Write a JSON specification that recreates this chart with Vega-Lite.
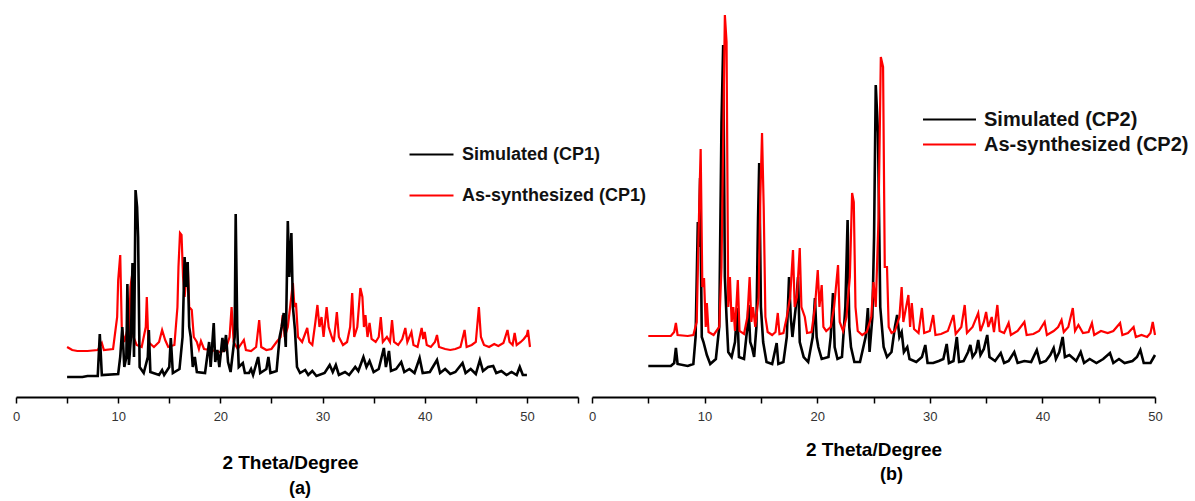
{
  "$schema": "https://vega.github.io/schema/vega-lite/v6.json",
  "padding": {"left": 12, "top": 0, "right": 0, "bottom": 0},
  "bounds": "flush",
  "spacing": 14,
  "config": {"view": {"stroke": null}, "font": "Liberation Sans"},
  "resolve": {"scale": {"color": "independent", "x": "independent", "y": "independent"}, "legend": {"color": "independent"}},
  "datasets": {
    "a_sim": [
      {"x":5.0,"y":20},{"x":6.5,"y":20},{"x":7.0,"y":21},{"x":8.0,"y":21},{"x":8.2,"y":63},{"x":8.4,"y":22},{"x":10.0,"y":23},{"x":10.2,"y":40},{"x":10.4,"y":70},{"x":10.6,"y":30},{"x":10.8,"y":40},{"x":10.9,"y":113},{"x":11.05,"y":32},{"x":11.25,"y":60},{"x":11.4,"y":134},{"x":11.55,"y":40},{"x":11.7,"y":207},{"x":11.85,"y":190},{"x":11.95,"y":160},{"x":12.1,"y":30},{"x":12.5,"y":24},{"x":12.9,"y":40},{"x":13.0,"y":67},{"x":13.15,"y":25},{"x":14.0,"y":22},{"x":14.3,"y":27},{"x":14.5,"y":22},{"x":15.0,"y":30},{"x":15.15,"y":59},{"x":15.35,"y":24},{"x":16.0,"y":28},{"x":16.3,"y":60},{"x":16.5,"y":140},{"x":16.65,"y":110},{"x":16.8,"y":135},{"x":16.95,"y":70},{"x":17.1,"y":60},{"x":17.3,"y":30},{"x":17.5,"y":40},{"x":17.7,"y":25},{"x":18.5,"y":24},{"x":18.9,"y":55},{"x":19.05,"y":30},{"x":19.35,"y":74},{"x":19.5,"y":35},{"x":19.7,"y":47},{"x":19.9,"y":30},{"x":20.2,"y":59},{"x":20.35,"y":45},{"x":20.55,"y":62},{"x":20.75,"y":35},{"x":21.0,"y":25},{"x":21.4,"y":60},{"x":21.5,"y":183},{"x":21.65,"y":70},{"x":21.8,"y":30},{"x":22.2,"y":34},{"x":22.4,"y":24},{"x":22.8,"y":24},{"x":23.0,"y":28},{"x":23.2,"y":22},{"x":23.7,"y":40},{"x":23.9,"y":24},{"x":24.5,"y":28},{"x":24.7,"y":40},{"x":24.9,"y":24},{"x":25.5,"y":26},{"x":25.8,"y":60},{"x":26.0,"y":70},{"x":26.2,"y":84},{"x":26.4,"y":50},{"x":26.6,"y":176},{"x":26.75,"y":120},{"x":26.95,"y":164},{"x":27.1,"y":90},{"x":27.3,"y":67},{"x":27.5,"y":30},{"x":27.8,"y":24},{"x":28.3,"y":27},{"x":28.6,"y":22},{"x":29.0,"y":26},{"x":29.4,"y":21},{"x":30.2,"y":24},{"x":30.7,"y":32},{"x":31.0,"y":25},{"x":31.3,"y":32},{"x":31.6,"y":22},{"x":32.2,"y":25},{"x":32.6,"y":22},{"x":33.2,"y":30},{"x":33.5,"y":26},{"x":34.0,"y":40},{"x":34.3,"y":30},{"x":34.6,"y":36},{"x":35.0,"y":25},{"x":35.5,"y":28},{"x":36.0,"y":49},{"x":36.2,"y":30},{"x":36.5,"y":46},{"x":36.7,"y":26},{"x":37.2,"y":28},{"x":37.7,"y":35},{"x":38.0,"y":25},{"x":38.5,"y":28},{"x":39.0,"y":24},{"x":39.5,"y":39},{"x":39.8,"y":24},{"x":40.5,"y":25},{"x":41.2,"y":37},{"x":41.5,"y":24},{"x":42.0,"y":28},{"x":42.5,"y":23},{"x":43.0,"y":25},{"x":43.7,"y":34},{"x":44.0,"y":24},{"x":44.5,"y":28},{"x":45.0,"y":23},{"x":45.4,"y":37},{"x":45.7,"y":26},{"x":46.2,"y":30},{"x":46.7,"y":31},{"x":47.0,"y":24},{"x":47.5,"y":26},{"x":48.0,"y":22},{"x":48.5,"y":25},{"x":49.0,"y":22},{"x":49.3,"y":30},{"x":49.6,"y":22},{"x":50.0,"y":22}
    ],
    "a_exp": [
      {"x":5.0,"y":50},{"x":5.5,"y":47},{"x":6.0,"y":46},{"x":7.0,"y":46},{"x":8.0,"y":47},{"x":8.4,"y":54},{"x":8.6,"y":47},{"x":9.5,"y":48},{"x":9.9,"y":80},{"x":10.0,"y":117},{"x":10.2,"y":142},{"x":10.35,"y":70},{"x":10.6,"y":55},{"x":10.9,"y":67},{"x":11.05,"y":55},{"x":11.2,"y":110},{"x":11.35,"y":121},{"x":11.5,"y":60},{"x":11.8,"y":52},{"x":12.3,"y":50},{"x":12.7,"y":70},{"x":12.8,"y":100},{"x":12.95,"y":55},{"x":13.5,"y":50},{"x":14.0,"y":55},{"x":14.3,"y":67},{"x":14.6,"y":57},{"x":14.9,"y":50},{"x":15.5,"y":52},{"x":15.8,"y":90},{"x":15.9,"y":130},{"x":16.05,"y":164},{"x":16.2,"y":162},{"x":16.35,"y":120},{"x":16.5,"y":100},{"x":16.8,"y":135},{"x":16.95,"y":90},{"x":17.2,"y":87},{"x":17.4,"y":60},{"x":17.7,"y":55},{"x":17.9,"y":48},{"x":18.1,"y":56},{"x":18.4,"y":48},{"x":19.0,"y":47},{"x":19.5,"y":46},{"x":20.0,"y":45},{"x":20.5,"y":47},{"x":20.9,"y":60},{"x":21.1,"y":90},{"x":21.3,"y":55},{"x":21.7,"y":48},{"x":22.3,"y":57},{"x":22.5,"y":47},{"x":23.0,"y":46},{"x":23.5,"y":50},{"x":23.8,"y":77},{"x":24.0,"y":50},{"x":24.5,"y":47},{"x":25.0,"y":48},{"x":25.5,"y":55},{"x":25.9,"y":60},{"x":26.1,"y":82},{"x":26.3,"y":60},{"x":26.6,"y":70},{"x":27.1,"y":114},{"x":27.25,"y":90},{"x":27.4,"y":94},{"x":27.6,"y":60},{"x":28.0,"y":55},{"x":28.5,"y":69},{"x":28.7,"y":55},{"x":29.0,"y":52},{"x":29.3,"y":75},{"x":29.5,"y":92},{"x":29.7,"y":70},{"x":29.9,"y":80},{"x":30.1,"y":60},{"x":30.4,"y":90},{"x":30.6,"y":70},{"x":30.9,"y":60},{"x":31.1,"y":55},{"x":31.4,"y":85},{"x":31.6,"y":60},{"x":32.0,"y":52},{"x":32.4,"y":55},{"x":32.7,"y":70},{"x":32.9,"y":104},{"x":33.1,"y":60},{"x":33.4,"y":70},{"x":33.7,"y":109},{"x":33.9,"y":100},{"x":34.05,"y":70},{"x":34.2,"y":82},{"x":34.4,"y":60},{"x":34.6,"y":74},{"x":34.8,"y":58},{"x":35.2,"y":55},{"x":35.5,"y":60},{"x":35.7,"y":80},{"x":35.9,"y":55},{"x":36.3,"y":60},{"x":36.6,"y":55},{"x":36.8,"y":77},{"x":37.0,"y":55},{"x":37.4,"y":52},{"x":37.8,"y":58},{"x":38.1,"y":69},{"x":38.3,"y":55},{"x":38.7,"y":65},{"x":38.9,"y":52},{"x":39.3,"y":50},{"x":39.7,"y":69},{"x":39.85,"y":58},{"x":40.0,"y":65},{"x":40.2,"y":52},{"x":40.6,"y":50},{"x":41.0,"y":55},{"x":41.2,"y":62},{"x":41.4,"y":50},{"x":42.0,"y":48},{"x":42.5,"y":47},{"x":43.0,"y":48},{"x":43.5,"y":50},{"x":43.9,"y":67},{"x":44.1,"y":50},{"x":44.6,"y":52},{"x":45.0,"y":55},{"x":45.3,"y":90},{"x":45.5,"y":60},{"x":45.8,"y":52},{"x":46.3,"y":50},{"x":46.8,"y":53},{"x":47.2,"y":51},{"x":47.7,"y":54},{"x":48.1,"y":67},{"x":48.3,"y":55},{"x":48.6,"y":52},{"x":48.8,"y":64},{"x":49.0,"y":52},{"x":49.4,"y":55},{"x":49.7,"y":58},{"x":50.0,"y":62},{"x":50.1,"y":67},{"x":50.3,"y":50}
    ],
    "b_sim": [
      {"x":5.0,"y":31},{"x":7.0,"y":31},{"x":7.3,"y":34},{"x":7.45,"y":49},{"x":7.6,"y":33},{"x":8.5,"y":31},{"x":9.0,"y":33},{"x":9.2,"y":60},{"x":9.4,"y":175},{"x":9.5,"y":150},{"x":9.6,"y":219},{"x":9.75,"y":60},{"x":9.9,"y":55},{"x":10.2,"y":42},{"x":10.5,"y":33},{"x":11.0,"y":38},{"x":11.3,"y":70},{"x":11.5,"y":274},{"x":11.65,"y":352},{"x":11.8,"y":120},{"x":11.95,"y":79},{"x":12.1,"y":45},{"x":12.4,"y":40},{"x":12.7,"y":55},{"x":12.9,"y":89},{"x":13.05,"y":40},{"x":13.5,"y":38},{"x":13.8,"y":70},{"x":13.9,"y":92},{"x":14.05,"y":55},{"x":14.2,"y":50},{"x":14.4,"y":40},{"x":14.6,"y":70},{"x":14.75,"y":180},{"x":14.85,"y":234},{"x":15.0,"y":90},{"x":15.2,"y":55},{"x":15.5,"y":35},{"x":16.0,"y":33},{"x":16.4,"y":54},{"x":16.55,"y":33},{"x":17.0,"y":35},{"x":17.3,"y":60},{"x":17.5,"y":120},{"x":17.65,"y":80},{"x":17.8,"y":60},{"x":18.1,"y":90},{"x":18.3,"y":120},{"x":18.45,"y":55},{"x":18.8,"y":40},{"x":19.2,"y":35},{"x":19.6,"y":60},{"x":19.8,"y":99},{"x":19.95,"y":60},{"x":20.1,"y":50},{"x":20.4,"y":38},{"x":21.0,"y":40},{"x":21.2,"y":60},{"x":21.4,"y":104},{"x":21.55,"y":50},{"x":21.8,"y":38},{"x":22.2,"y":40},{"x":22.5,"y":90},{"x":22.7,"y":177},{"x":22.85,"y":70},{"x":23.0,"y":50},{"x":23.3,"y":35},{"x":23.8,"y":35},{"x":24.3,"y":60},{"x":24.5,"y":89},{"x":24.65,"y":45},{"x":24.9,"y":80},{"x":25.05,"y":160},{"x":25.2,"y":312},{"x":25.4,"y":264},{"x":25.6,"y":90},{"x":25.9,"y":50},{"x":26.2,"y":40},{"x":26.6,"y":45},{"x":26.9,"y":70},{"x":27.1,"y":82},{"x":27.3,"y":60},{"x":27.5,"y":65},{"x":27.7,"y":45},{"x":28.0,"y":50},{"x":28.2,"y":38},{"x":28.8,"y":35},{"x":29.3,"y":40},{"x":29.6,"y":52},{"x":29.8,"y":34},{"x":30.3,"y":34},{"x":30.8,"y":36},{"x":31.2,"y":38},{"x":31.5,"y":53},{"x":31.7,"y":34},{"x":32.1,"y":36},{"x":32.4,"y":60},{"x":32.6,"y":35},{"x":33.0,"y":36},{"x":33.4,"y":45},{"x":33.6,"y":52},{"x":33.8,"y":40},{"x":34.1,"y":45},{"x":34.3,"y":57},{"x":34.5,"y":42},{"x":34.8,"y":48},{"x":35.1,"y":62},{"x":35.3,"y":40},{"x":35.8,"y":36},{"x":36.3,"y":44},{"x":36.6,"y":34},{"x":37.0,"y":36},{"x":37.5,"y":45},{"x":37.8,"y":34},{"x":38.4,"y":36},{"x":39.0,"y":35},{"x":39.5,"y":47},{"x":39.8,"y":34},{"x":40.3,"y":36},{"x":40.7,"y":42},{"x":41.0,"y":49},{"x":41.2,"y":38},{"x":41.5,"y":45},{"x":41.8,"y":60},{"x":42.0,"y":40},{"x":42.4,"y":42},{"x":43.0,"y":36},{"x":43.4,"y":45},{"x":43.7,"y":34},{"x":44.2,"y":38},{"x":44.8,"y":34},{"x":45.4,"y":38},{"x":46.0,"y":44},{"x":46.3,"y":34},{"x":46.8,"y":38},{"x":47.3,"y":34},{"x":48.0,"y":36},{"x":48.4,"y":40},{"x":48.7,"y":47},{"x":49.0,"y":34},{"x":49.6,"y":34},{"x":49.8,"y":38},{"x":50.0,"y":42}
    ],
    "b_exp": [
      {"x":5.0,"y":61},{"x":7.0,"y":61},{"x":7.3,"y":65},{"x":7.45,"y":74},{"x":7.6,"y":62},{"x":8.5,"y":61},{"x":9.0,"y":62},{"x":9.3,"y":75},{"x":9.5,"y":180},{"x":9.65,"y":248},{"x":9.8,"y":110},{"x":9.95,"y":119},{"x":10.1,"y":70},{"x":10.2,"y":94},{"x":10.35,"y":65},{"x":10.8,"y":62},{"x":11.3,"y":70},{"x":11.5,"y":130},{"x":11.7,"y":300},{"x":11.8,"y":382},{"x":11.95,"y":355},{"x":12.1,"y":90},{"x":12.25,"y":120},{"x":12.4,"y":75},{"x":12.55,"y":90},{"x":12.7,"y":66},{"x":12.95,"y":117},{"x":13.1,"y":66},{"x":13.5,"y":63},{"x":13.8,"y":80},{"x":14.0,"y":120},{"x":14.15,"y":75},{"x":14.3,"y":90},{"x":14.5,"y":70},{"x":14.8,"y":100},{"x":14.95,"y":200},{"x":15.1,"y":264},{"x":15.25,"y":189},{"x":15.4,"y":80},{"x":15.6,"y":65},{"x":16.0,"y":62},{"x":16.3,"y":65},{"x":16.5,"y":84},{"x":16.65,"y":63},{"x":17.0,"y":64},{"x":17.3,"y":80},{"x":17.6,"y":100},{"x":17.85,"y":147},{"x":18.0,"y":90},{"x":18.2,"y":100},{"x":18.45,"y":149},{"x":18.6,"y":90},{"x":18.9,"y":80},{"x":19.1,"y":64},{"x":19.5,"y":65},{"x":19.8,"y":90},{"x":20.05,"y":127},{"x":20.2,"y":90},{"x":20.4,"y":112},{"x":20.55,"y":70},{"x":20.8,"y":66},{"x":21.2,"y":70},{"x":21.5,"y":90},{"x":21.85,"y":132},{"x":22.0,"y":75},{"x":22.3,"y":66},{"x":22.6,"y":80},{"x":22.9,"y":120},{"x":23.1,"y":204},{"x":23.25,"y":195},{"x":23.4,"y":90},{"x":23.6,"y":66},{"x":24.0,"y":62},{"x":24.4,"y":65},{"x":24.8,"y":80},{"x":25.0,"y":115},{"x":25.2,"y":90},{"x":25.45,"y":180},{"x":25.65,"y":340},{"x":25.85,"y":330},{"x":26.0,"y":130},{"x":26.2,"y":130},{"x":26.35,"y":70},{"x":26.6,"y":64},{"x":26.9,"y":66},{"x":27.3,"y":80},{"x":27.5,"y":110},{"x":27.65,"y":75},{"x":27.9,"y":90},{"x":28.1,"y":102},{"x":28.25,"y":70},{"x":28.4,"y":94},{"x":28.6,"y":68},{"x":29.0,"y":64},{"x":29.3,"y":89},{"x":29.5,"y":64},{"x":30.0,"y":66},{"x":30.3,"y":82},{"x":30.5,"y":62},{"x":31.0,"y":63},{"x":31.6,"y":66},{"x":32.1,"y":82},{"x":32.3,"y":63},{"x":32.8,"y":70},{"x":33.1,"y":92},{"x":33.3,"y":64},{"x":33.8,"y":70},{"x":34.3,"y":84},{"x":34.5,"y":66},{"x":34.8,"y":75},{"x":35.0,"y":85},{"x":35.2,"y":70},{"x":35.5,"y":80},{"x":35.7,"y":65},{"x":36.0,"y":92},{"x":36.2,"y":66},{"x":36.6,"y":64},{"x":37.0,"y":74},{"x":37.2,"y":62},{"x":37.8,"y":66},{"x":38.4,"y":75},{"x":38.6,"y":62},{"x":39.2,"y":63},{"x":39.7,"y":66},{"x":40.2,"y":75},{"x":40.4,"y":62},{"x":41.0,"y":66},{"x":41.4,"y":70},{"x":41.7,"y":77},{"x":41.9,"y":65},{"x":42.3,"y":70},{"x":42.7,"y":89},{"x":42.9,"y":66},{"x":43.2,"y":72},{"x":43.6,"y":64},{"x":44.1,"y":65},{"x":44.4,"y":74},{"x":44.6,"y":62},{"x":45.2,"y":66},{"x":45.8,"y":64},{"x":46.3,"y":66},{"x":46.9,"y":74},{"x":47.1,"y":62},{"x":47.6,"y":64},{"x":48.1,"y":70},{"x":48.3,"y":60},{"x":48.8,"y":62},{"x":49.3,"y":60},{"x":49.6,"y":64},{"x":49.8,"y":75},{"x":50.0,"y":62}
    ]
  },
  "hconcat": [
    {
      "width": 562,
      "height": 397,
      "title": {"text": "(a)", "orient": "bottom", "anchor": "middle", "dx": 3, "offset": 8, "fontSize": 18, "fontWeight": "bold", "color": "#000000", "font": "Liberation Sans"},
      "encoding": {
        "x": {"field": "x", "type": "quantitative", "scale": {"domain": [0, 55], "nice": false},
          "axis": {"values": [0,5,10,15,20,25,30,35,40,45,50,55], "labelExpr": "datum.value % 10 === 0 && datum.value <= 50 ? datum.label : ''", "title": "2 Theta/Degree", "titleFontSize": 19, "titleFontWeight": "bold", "titleColor": "#000000", "titlePadding": 30, "titleX": 274, "domainColor": "#000000", "domainWidth": 2, "tickColor": "#000000", "tickWidth": 1.5, "tickSize": 6, "labelFontSize": 13, "labelColor": "#333333", "labelPadding": 7, "grid": false, "labelFlush": false, "labelOverlap": false}},
        "y": {"field": "y", "type": "quantitative", "scale": {"domain": [0, 397], "nice": false}, "axis": null}
      },
      "layer": [
        {"data": {"name": "a_exp"}, "mark": {"type": "line", "strokeWidth": 2.2},
          "encoding": {"color": {"datum": "As-synthesized (CP1)", "type": "nominal",
            "scale": {"domain": ["Simulated (CP1)", "As-synthesized (CP1)"], "range": ["#000000", "#ff0000"]},
            "legend": {"orient": "none", "legendX": 392, "legendY": 131, "title": null, "symbolType": "stroke", "symbolSize": 1936, "symbolStrokeWidth": 2.2, "labelFontSize": 18, "labelFontWeight": "bold", "labelColor": "#111111", "labelOffset": 7, "labelLimit": 400, "rowPadding": 8, "labelFont": "Liberation Sans"}}}},
        {"data": {"name": "a_sim"}, "mark": {"type": "line", "strokeWidth": 2.6},
          "encoding": {"color": {"datum": "Simulated (CP1)", "type": "nominal"}}}
      ]
    },
    {
      "width": 563,
      "height": 397,
      "title": {"text": "(b)", "orient": "bottom", "anchor": "middle", "dx": 18, "offset": 7, "fontSize": 18, "fontWeight": "bold", "color": "#000000", "font": "Liberation Sans"},
      "encoding": {
        "x": {"field": "x", "type": "quantitative", "scale": {"domain": [0, 50], "nice": false},
          "axis": {"values": [0,5,10,15,20,25,30,35,40,45,50], "labelExpr": "datum.value % 10 === 0 ? datum.label : ''", "title": "2 Theta/Degree", "titleFontSize": 19, "titleFontWeight": "bold", "titleColor": "#000000", "titlePadding": 17, "domainColor": "#000000", "domainWidth": 2, "tickColor": "#000000", "tickWidth": 1.5, "tickSize": 6, "labelFontSize": 13, "labelColor": "#333333", "labelPadding": 7, "grid": false, "labelFlush": false, "labelOverlap": false}},
        "y": {"field": "y", "type": "quantitative", "scale": {"domain": [0, 397], "nice": false}, "axis": null}
      },
      "layer": [
        {"data": {"name": "b_sim"}, "mark": {"type": "line", "strokeWidth": 2.6},
          "encoding": {"color": {"datum": "Simulated (CP2)", "type": "nominal",
            "scale": {"domain": ["Simulated (CP2)", "As-synthesized (CP2)"], "range": ["#000000", "#ff0000"]},
            "legend": {"orient": "none", "legendX": 343, "legendY": 105, "title": null, "symbolType": "M-2,0H2", "symbolSize": 702, "symbolStrokeWidth": 2.2, "labelFontSize": 20, "labelFontWeight": "bold", "labelColor": "#111111", "labelOffset": 20, "labelLimit": 400, "rowPadding": -1, "labelFont": "Liberation Sans"}}}},
        {"data": {"name": "b_exp"}, "mark": {"type": "line", "strokeWidth": 2.2},
          "encoding": {"color": {"datum": "As-synthesized (CP2)", "type": "nominal"}}}
      ]
    }
  ]
}
